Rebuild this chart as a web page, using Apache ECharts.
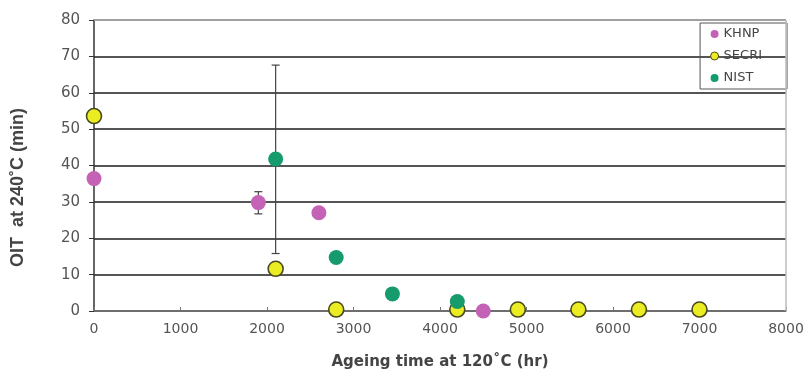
<!DOCTYPE html>
<html>
<head>
<meta charset="UTF-8">
<script src="https://cdn.jsdelivr.net/npm/echarts@6/dist/echarts.min.js"></script>
<style>body{margin:0;background:#fff}</style>
</head>
<body>
<div id="main" style="width:808px;height:373px"></div>
<script>
// data: [ageing time (hr), OIT (min)]
var khnp = [[0, 36.4], [1900, 29.8], [2600, 27], [4500, 0]];
var secri = [[0, 53.6], [2100, 11.6], [2800, 0.4], [4200, 0.4], [4900, 0.4], [5600, 0.4], [6300, 0.4], [7000, 0.4]];
var nist = [[2100, 41.8], [2800, 14.7], [3450, 4.7], [4200, 2.6]];
// error bars: [x, low, high]
var khnpErr = [[1900, 26.7, 32.8]];
var nistErr = [[2100, 15.8, 67.6]];

var myChart = echarts.init(document.getElementById('main'));

function errBar(params, api) {
    var x = api.value(0);
    var lo = api.coord([x, api.value(1)]);
    var hi = api.coord([x, api.value(2)]);
    var w = 4;
    var st = { stroke: '#444', lineWidth: 1.2 };
    return {
        type: 'group',
        children: [
            { type: 'line', shape: { x1: lo[0], y1: lo[1], x2: hi[0], y2: hi[1] }, style: st },
            { type: 'line', shape: { x1: hi[0] - w, y1: hi[1], x2: hi[0] + w, y2: hi[1] }, style: st },
            { type: 'line', shape: { x1: lo[0] - w, y1: lo[1], x2: lo[0] + w, y2: lo[1] }, style: st }
        ]
    };
}

var option = {
    animation: false,
    grid: { left: 94, right: 22, top: 20, bottom: 62, outerBoundsMode: 'none' },
    legend: {
        orient: 'vertical',
        right: 21,
        top: 23,
        icon: 'circle',
        itemWidth: 8,
        itemHeight: 8,
        itemGap: 8,
        padding: [4, 25, 4, 10],
        borderColor: '#555',
        borderWidth: 1,
        textStyle: { fontFamily: 'DejaVu Sans', fontSize: 13, lineHeight: 14, color: '#444' },
        data: [
            { name: 'KHNP' },
            { name: 'SECRI', itemStyle: { borderWidth: 1 } },
            { name: 'NIST' }
        ]
    },
    xAxis: {
        type: 'value',
        min: 0, max: 8000, interval: 1000,
        name: 'Ageing time at 120˚C (hr)',
        nameLocation: 'middle',
        nameGap: 44,
        nameTextStyle: { fontFamily: 'DejaVu Sans', fontSize: 15, fontWeight: 'bold', color: '#444' },
        axisLine: { lineStyle: { color: '#777', width: 1.5 } },
        axisTick: { show: true, length: 4, inside: true, lineStyle: { color: '#777' } },
        axisLabel: {
            fontFamily: 'DejaVu Sans', fontSize: 14, color: '#555', margin: 11,
            formatter: function (v) { return String(v); }
        },
        splitLine: { show: false }
    },
    yAxis: {
        type: 'value',
        min: 0, max: 80, interval: 10,
        name: 'OIT  at 240˚C (min)',
        nameLocation: 'middle',
        nameGap: 67,
        nameTextStyle: { fontFamily: 'Liberation Sans', fontSize: 18, fontWeight: 'bold', color: '#444', padding: [0, 44, 0, 0] },
        axisLine: { show: true, lineStyle: { color: '#333', width: 1.5 } },
        axisTick: { show: true, length: 5, lineStyle: { color: '#333' } },
        axisLabel: { fontFamily: 'DejaVu Sans', fontSize: 15, color: '#555', margin: 14 },
        splitLine: { show: true, lineStyle: { color: '#555', width: 2 } }
    },
    series: [
        {
            type: 'custom',
            renderItem: errBar,
            data: khnpErr,
            encode: { x: 0, y: [1, 2] },
            z: 1
        },
        {
            type: 'custom',
            renderItem: errBar,
            data: nistErr,
            encode: { x: 0, y: [1, 2] },
            z: 1
        },
        {
            name: 'KHNP',
            type: 'scatter',
            data: khnp,
            symbolSize: 15,
            itemStyle: { color: '#c462b6', opacity: 1 },
            z: 3
        },
        {
            name: 'SECRI',
            type: 'scatter',
            data: secri,
            symbolSize: 15,
            itemStyle: { color: '#ecec22', borderColor: '#4a4a20', borderWidth: 1.6, opacity: 1 },
            z: 2
        },
        {
            name: 'NIST',
            type: 'scatter',
            data: nist,
            symbolSize: 15,
            itemStyle: { color: '#169c6c', opacity: 1 },
            z: 3
        },
        {
            type: 'line',
            silent: true,
            data: [],
            markLine: {
                silent: true,
                symbol: 'none',
                label: { show: false },
                lineStyle: { color: '#bbb', width: 1.5, type: 'solid' },
                data: [[{ coord: [8000, 0] }, { coord: [8000, 80] }], [{ coord: [0, 80] }, { coord: [8000, 80] }]]
            }
        }
    ]
};
myChart.setOption(option);
</script>
</body>
</html>
